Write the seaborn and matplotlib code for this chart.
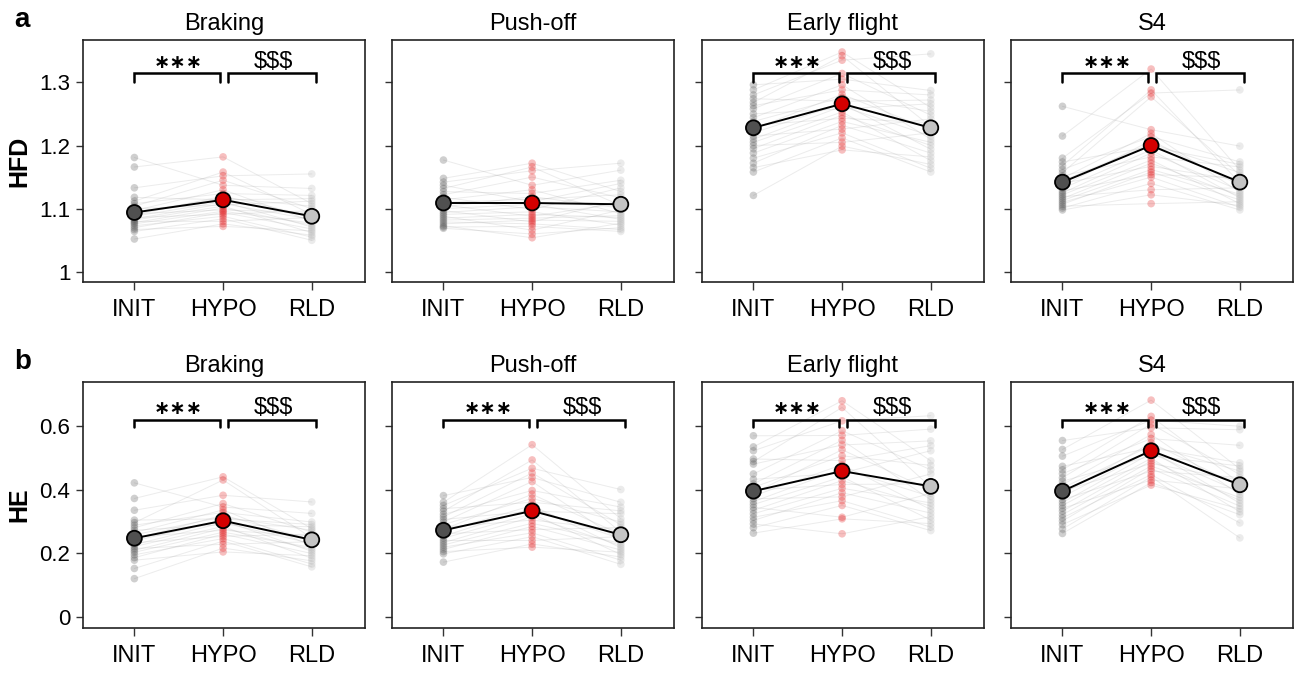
import pandas as pd
import matplotlib
matplotlib.use("Agg")
import matplotlib.pyplot as plt
import seaborn as sns

conditions = ["INIT", "HYPO", "RLD"]
phases = ["Braking", "Push-off", "Early flight", "S4"]

# subject pairing between conditions (index into each sorted list)
pair_hypo = [4, 0, 2, 9, 1, 6, 3, 12, 5, 8, 15, 7, 10, 18, 11, 13, 21, 14, 16, 19, 17, 23, 20, 22]
pair_rld = [1, 5, 0, 3, 10, 2, 7, 4, 14, 6, 9, 11, 17, 8, 13, 20, 12, 16, 15, 22, 18, 19, 23, 21]

# ---- HFD ----
hfd_braking_init = [1.181, 1.166, 1.133, 1.118, 1.112, 1.108, 1.104, 1.100, 1.097, 1.094, 1.092, 1.090,
                    1.088, 1.086, 1.084, 1.082, 1.080, 1.078, 1.076, 1.073, 1.070, 1.067, 1.064, 1.052]
hfd_braking_hypo = [1.182, 1.158, 1.152, 1.145, 1.137, 1.130, 1.124, 1.120, 1.117, 1.114, 1.111, 1.108,
                    1.106, 1.104, 1.101, 1.098, 1.096, 1.094, 1.091, 1.088, 1.084, 1.080, 1.076, 1.072]
hfd_braking_rld = [1.155, 1.132, 1.121, 1.116, 1.112, 1.108, 1.104, 1.100, 1.097, 1.094, 1.091, 1.088,
                   1.086, 1.083, 1.080, 1.077, 1.074, 1.071, 1.068, 1.065, 1.062, 1.058, 1.055, 1.050]
hfd_braking_mean = [1.094, 1.114, 1.088]

hfd_pushoff_init = [1.177, 1.148, 1.142, 1.137, 1.132, 1.127, 1.122, 1.118, 1.114, 1.110, 1.106, 1.103,
                    1.100, 1.097, 1.094, 1.091, 1.088, 1.085, 1.082, 1.079, 1.076, 1.073, 1.071, 1.069]
hfd_pushoff_hypo = [1.172, 1.166, 1.160, 1.150, 1.137, 1.130, 1.124, 1.119, 1.115, 1.111, 1.107, 1.103,
                    1.099, 1.095, 1.091, 1.088, 1.085, 1.082, 1.079, 1.076, 1.072, 1.066, 1.060, 1.054]
hfd_pushoff_rld = [1.172, 1.161, 1.145, 1.140, 1.133, 1.127, 1.122, 1.117, 1.113, 1.109, 1.105, 1.101,
                   1.098, 1.095, 1.092, 1.089, 1.086, 1.083, 1.080, 1.077, 1.074, 1.070, 1.067, 1.064]
hfd_pushoff_mean = [1.109, 1.109, 1.107]

hfd_early_init = [1.296, 1.288, 1.280, 1.274, 1.268, 1.263, 1.258, 1.250, 1.244, 1.238, 1.232, 1.226,
                  1.220, 1.215, 1.210, 1.205, 1.200, 1.195, 1.188, 1.180, 1.172, 1.165, 1.158, 1.121]
hfd_early_hypo = [1.348, 1.342, 1.335, 1.314, 1.305, 1.296, 1.288, 1.281, 1.276, 1.270, 1.266, 1.262,
                  1.258, 1.253, 1.248, 1.243, 1.238, 1.232, 1.226, 1.220, 1.212, 1.205, 1.199, 1.193]
hfd_early_rld = [1.345, 1.287, 1.280, 1.272, 1.266, 1.260, 1.254, 1.248, 1.242, 1.236, 1.230, 1.225,
                 1.220, 1.215, 1.210, 1.205, 1.200, 1.194, 1.188, 1.182, 1.176, 1.170, 1.164, 1.158]
hfd_early_mean = [1.228, 1.266, 1.228]

hfd_s4_init = [1.262, 1.215, 1.180, 1.174, 1.168, 1.162, 1.157, 1.152, 1.148, 1.144, 1.140, 1.136,
               1.132, 1.128, 1.125, 1.122, 1.119, 1.116, 1.113, 1.110, 1.107, 1.104, 1.101, 1.098]
hfd_s4_hypo = [1.321, 1.288, 1.283, 1.277, 1.225, 1.219, 1.214, 1.208, 1.203, 1.198, 1.193, 1.188,
               1.182, 1.177, 1.172, 1.167, 1.162, 1.158, 1.154, 1.150, 1.140, 1.130, 1.122, 1.108]
hfd_s4_rld = [1.288, 1.199, 1.174, 1.170, 1.166, 1.161, 1.157, 1.153, 1.149, 1.145, 1.141, 1.137,
              1.133, 1.129, 1.126, 1.123, 1.120, 1.117, 1.114, 1.111, 1.108, 1.105, 1.102, 1.098]
hfd_s4_mean = [1.142, 1.200, 1.142]

# ---- HE ----
he_braking_init = [0.421, 0.372, 0.335, 0.304, 0.296, 0.288, 0.280, 0.272, 0.265, 0.258, 0.251, 0.245,
                   0.239, 0.233, 0.227, 0.221, 0.215, 0.209, 0.203, 0.195, 0.186, 0.178, 0.152, 0.120]
he_braking_hypo = [0.440, 0.430, 0.382, 0.356, 0.345, 0.336, 0.328, 0.320, 0.314, 0.308, 0.302, 0.296,
                   0.290, 0.284, 0.278, 0.272, 0.266, 0.260, 0.253, 0.246, 0.238, 0.228, 0.216, 0.204]
he_braking_rld = [0.361, 0.325, 0.298, 0.290, 0.283, 0.277, 0.272, 0.266, 0.260, 0.254, 0.248, 0.242,
                  0.236, 0.230, 0.224, 0.218, 0.212, 0.206, 0.199, 0.192, 0.184, 0.176, 0.166, 0.157]
he_braking_mean = [0.247, 0.302, 0.242]

he_pushoff_init = [0.381, 0.360, 0.350, 0.340, 0.332, 0.322, 0.314, 0.306, 0.298, 0.290, 0.282, 0.275,
                   0.268, 0.261, 0.254, 0.247, 0.240, 0.233, 0.226, 0.219, 0.212, 0.205, 0.198, 0.172]
he_pushoff_hypo = [0.541, 0.493, 0.467, 0.452, 0.438, 0.425, 0.397, 0.385, 0.372, 0.360, 0.350, 0.341,
                   0.332, 0.324, 0.314, 0.304, 0.294, 0.284, 0.274, 0.264, 0.252, 0.240, 0.229, 0.219]
he_pushoff_rld = [0.400, 0.360, 0.345, 0.333, 0.324, 0.308, 0.298, 0.289, 0.281, 0.273, 0.266, 0.259,
                  0.252, 0.245, 0.238, 0.231, 0.224, 0.217, 0.210, 0.203, 0.196, 0.188, 0.178, 0.165]
he_pushoff_mean = [0.272, 0.333, 0.258]

he_early_init = [0.569, 0.534, 0.522, 0.496, 0.488, 0.480, 0.449, 0.432, 0.418, 0.407, 0.398, 0.389,
                 0.380, 0.371, 0.362, 0.353, 0.344, 0.335, 0.324, 0.313, 0.303, 0.292, 0.280, 0.263]
he_early_hypo = [0.679, 0.658, 0.616, 0.585, 0.570, 0.555, 0.540, 0.525, 0.506, 0.491, 0.478, 0.465,
                 0.452, 0.440, 0.428, 0.416, 0.404, 0.390, 0.377, 0.365, 0.350, 0.313, 0.308, 0.261]
he_early_rld = [0.632, 0.590, 0.553, 0.538, 0.522, 0.490, 0.476, 0.462, 0.449, 0.418, 0.408, 0.398,
                0.388, 0.378, 0.368, 0.358, 0.348, 0.337, 0.326, 0.315, 0.304, 0.293, 0.282, 0.271]
he_early_mean = [0.395, 0.458, 0.410]

he_s4_init = [0.554, 0.526, 0.505, 0.473, 0.462, 0.450, 0.437, 0.426, 0.415, 0.405, 0.395, 0.386,
              0.377, 0.368, 0.359, 0.350, 0.341, 0.332, 0.321, 0.311, 0.301, 0.290, 0.276, 0.262]
he_s4_hypo = [0.681, 0.630, 0.618, 0.606, 0.594, 0.573, 0.560, 0.547, 0.538, 0.531, 0.522, 0.514,
              0.506, 0.498, 0.490, 0.482, 0.474, 0.466, 0.458, 0.447, 0.440, 0.430, 0.422, 0.414]
he_s4_rld = [0.599, 0.588, 0.539, 0.484, 0.474, 0.465, 0.458, 0.447, 0.438, 0.429, 0.420, 0.411,
             0.402, 0.393, 0.384, 0.375, 0.366, 0.357, 0.348, 0.339, 0.330, 0.321, 0.295, 0.248]
he_s4_mean = [0.395, 0.522, 0.415]

rows = [
    ("HFD", [(hfd_braking_init, hfd_braking_hypo, hfd_braking_rld, hfd_braking_mean),
             (hfd_pushoff_init, hfd_pushoff_hypo, hfd_pushoff_rld, hfd_pushoff_mean),
             (hfd_early_init, hfd_early_hypo, hfd_early_rld, hfd_early_mean),
             (hfd_s4_init, hfd_s4_hypo, hfd_s4_rld, hfd_s4_mean)]),
    ("HE", [(he_braking_init, he_braking_hypo, he_braking_rld, he_braking_mean),
            (he_pushoff_init, he_pushoff_hypo, he_pushoff_rld, he_pushoff_mean),
            (he_early_init, he_early_hypo, he_early_rld, he_early_mean),
            (he_s4_init, he_s4_hypo, he_s4_rld, he_s4_mean)]),
]
sig_panels = [[True, False, True, True], [True, True, True, True]]

row_ylim = [(0.984, 1.367), (-0.035, 0.738)]
row_yticks = [[1.0, 1.1, 1.2, 1.3], [0.0, 0.2, 0.4, 0.6]]
row_yticklabels = [["1", "1.1", "1.2", "1.3"], ["0", "0.2", "0.4", "0.6"]]
# bracket leg bottom, bracket top, text centre
row_bracket = [(1.300, 1.315, 1.332), (0.597, 0.620, 0.656)]

sns.set_style("ticks")
plt.rcParams["font.family"] = ["Liberation Sans", "DejaVu Sans"]
plt.rcParams["text.color"] = "black"
plt.rcParams["xtick.labelcolor"] = "black"
plt.rcParams["ytick.labelcolor"] = "black"
plt.rcParams["axes.labelcolor"] = "black"

point_pal = {"INIT": "#555555", "HYPO": "#e31a1c", "RLD": "#b8b8b8"}
mean_pal = {"INIT": "#505050", "HYPO": "#d40000", "RLD": "#c4c4c4"}

fig = plt.figure(figsize=(12.98, 6.73), dpi=100)
col_x = [0.0639, 0.302, 0.5408, 0.7789]
row_y = [(0.581, 0.3596), (0.0669, 0.3655)]

for r, (metric, panels) in enumerate(rows):
    for c, (init, hypo, rld, means) in enumerate(panels):
        ax = fig.add_axes([col_x[c], row_y[r][0], 0.2173, row_y[r][1]])
        recs = []
        for i in range(len(init)):
            recs.append((i, 0, "INIT", init[i]))
            recs.append((i, 1, "HYPO", hypo[pair_hypo[i]]))
            recs.append((i, 2, "RLD", rld[pair_rld[i]]))
        df = pd.DataFrame(recs, columns=["subject", "x", "cond", "value"])
        sns.lineplot(data=df, x="x", y="value", units="subject", estimator=None,
                     color="#a0a0a0", alpha=0.2, lw=0.7, ax=ax, zorder=1)
        sns.scatterplot(data=df, x="x", y="value", hue="cond", palette=point_pal,
                        alpha=0.28, s=30, linewidth=0, legend=False, ax=ax, zorder=2)
        mdf = pd.DataFrame({"x": [0, 1, 2], "cond": conditions, "value": means})
        sns.lineplot(data=mdf, x="x", y="value", color="black", lw=1.4, ax=ax, zorder=3)
        sns.scatterplot(data=mdf, x="x", y="value", hue="cond", palette=mean_pal,
                        s=115, edgecolor="black", linewidth=1.3, legend=False, ax=ax, zorder=4)

        if sig_panels[r][c]:
            lo, hi, ty = row_bracket[r]
            ax.plot([0, 0, 0.97, 0.97], [lo, hi, hi, lo], color="black", lw=1.8, zorder=5,
                    solid_joinstyle="miter")
            ax.plot([1.05, 1.05, 2.05, 2.05], [lo, hi, hi, lo], color="black", lw=1.8, zorder=5,
                    solid_joinstyle="miter")
            ax.text(0.5, ty, "\u2217\u2217\u2217", ha="center", va="center", fontsize=14,
                    fontweight="bold", family=["DejaVu Sans"], zorder=6)
            ax.text(1.57, ty, "$$$", ha="center", va="center", fontsize=17, zorder=6)

        ax.set_xlim(-0.58, 2.6)
        ax.set_ylim(*row_ylim[r])
        ax.set_xticks([0, 1, 2])
        ax.set_xticklabels(conditions, fontsize=17)
        ax.set_yticks(row_yticks[r])
        if c == 0:
            ax.set_yticklabels(row_yticklabels[r], fontsize=16)
            ax.set_ylabel(metric, fontsize=18, fontweight="bold", labelpad=6)
        else:
            ax.set_yticklabels([])
            ax.set_ylabel("")
        ax.set_xlabel("")
        ax.set_title(phases[c], fontsize=17, pad=7)
        ax.tick_params(axis="x", length=6, width=1, pad=6, color="#333333")
        ax.tick_params(axis="y", length=5, width=1, pad=4, color="#333333")
        for sp in ax.spines.values():
            sp.set_linewidth(1.2)
            sp.set_color("#222222")

fig.text(0.011, 0.97, "a", fontsize=20, fontweight="bold", va="center")
fig.text(0.011, 0.462, "b", fontsize=20, fontweight="bold", va="center")

fig.savefig("out.png", dpi=100)
